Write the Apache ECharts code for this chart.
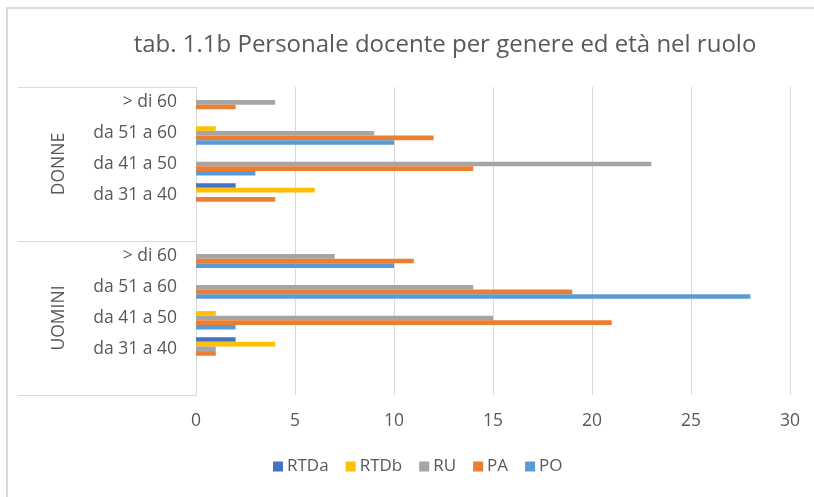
<!DOCTYPE html>
<html>
<head>
<meta charset="utf-8">
<script src="https://cdn.jsdelivr.net/npm/echarts@6/dist/echarts.min.js"></script>
<style>
  html, body { margin: 0; padding: 0; background: #fff; }
  #chart { width: 814px; height: 497px; }
</style>
</head>
<body>
<div id="chart"></div>
<script>
// fasce d'età, dall'alto verso il basso (slot vuoto in fondo a ogni gruppo)
const gruppi = ['DONNE', 'UOMINI']
const fasce = ['> di 60', 'da 51 a 60', 'da 41 a 50', 'da 31 a 40', '']
const categorie = [...fasce, ...fasce]

// valori per ruolo: DONNE poi UOMINI, stesso ordine di fasce
const RTDa = [0, 0, 0, 2, null, 0, 0, 0, 2, null]
const RTDb = [0, 1, 0, 6, null, 0, 0, 1, 4, null]
const RU   = [4, 9, 23, 0, null, 7, 14, 15, 1, null]
const PA   = [2, 12, 14, 4, null, 11, 19, 21, 1, null]
const PO   = [0, 10, 3, 0, null, 10, 28, 2, 0, null]

const ticksX = [0, 5, 10, 15, 20, 25, 30]

const serie = [
  { name: 'RTDa', data: RTDa, color: '#4472C4' },
  { name: 'RTDb', data: RTDb, color: '#FFC000' },
  { name: 'RU', data: RU, color: '#A5A5A5' },
  { name: 'PA', data: PA, color: '#ED7D31' },
  { name: 'PO', data: PO, color: '#5B9BD5' },
]

const font = 'Open Sans'
const grigio = '#595959'

let option = {
  backgroundColor: '#fff',
  animation: false,
  textStyle: { fontFamily: font },
  title: {
    text: 'tab. 1.1b Personale docente per genere ed età nel ruolo',
    left: 440,
    top: 28,
    textAlign: 'center',
    textStyle: { fontFamily: font, fontWeight: 'normal', fontSize: 24, color: grigio },
  },
  legend: {
    data: serie.map(s => s.name),
    left: 268,
    top: 453,
    itemWidth: 10,
    itemHeight: 10,
    itemGap: 17,
    icon: 'rect',
    textStyle: { fontFamily: font, fontSize: 17, color: grigio, padding: [0, 0, 0, -1] },
  },
  grid: { left: 196, right: 24, top: 87, bottom: 102 },
  xAxis: {
    type: 'value',
    min: ticksX[0],
    max: ticksX[ticksX.length - 1],
    interval: 5,
    axisLine: { show: false },
    axisTick: { show: false },
    axisLabel: { color: grigio, fontSize: 17.5, margin: 17, fontFamily: font },
    splitLine: { lineStyle: { color: '#d9d9d9', width: 1 } },
  },
  yAxis: [
    {
      type: 'category',
      data: categorie,
      inverse: true,
      axisLine: { show: true, lineStyle: { color: '#d9d9d9' } },
      axisTick: { show: false },
      axisLabel: { color: grigio, fontSize: 17.5, margin: 19, fontFamily: font },
    },
    {
      type: 'category',
      data: gruppi,
      inverse: true,
      position: 'left',
      axisLine: { show: false },
      axisTick: { show: true, length: 178, lineStyle: { color: '#d9d9d9' } },
      axisLabel: { color: grigio, fontSize: 17.5, rotate: 90, margin: 137, fontFamily: font, align: 'center', verticalAlign: 'middle' },
    },
  ],
  graphic: [
    {
      type: 'polyline',
      shape: { points: [[7, 497], [7, 8], [814, 8]] },
      style: { stroke: '#d9d9d9', lineWidth: 2, fill: null },
      silent: true,
    },
  ],
  series: serie.map(s => ({
    name: s.name,
    type: 'bar',
    yAxisIndex: 0,
    data: s.data,
    itemStyle: { color: s.color },
    barGap: '0%',
    barCategoryGap: '25%',
  })),
}

let myChart = echarts.init(document.getElementById('chart'))
myChart.setOption(option)
</script>
</body>
</html>
